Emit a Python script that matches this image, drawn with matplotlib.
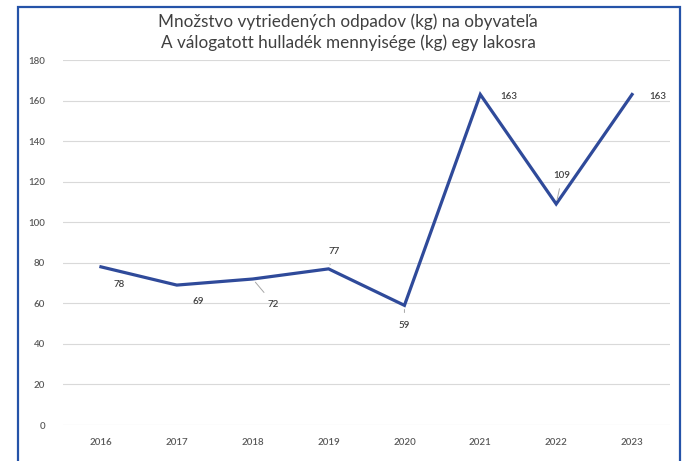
import matplotlib
matplotlib.use("Agg")
import matplotlib.pyplot as plt
from matplotlib.patches import Rectangle

years = ["2016", "2017", "2018", "2019", "2020", "2021", "2022", "2023"]
values = [78, 69, 72, 77, 59, 163, 109, 163]
yticks = [0, 20, 40, 60, 80, 100, 120, 140, 160, 180]
title = "Množstvo vytriedených odpadov (kg) na obyvateľa\nA válogatott hulladék mennyisége (kg) egy lakosra"

# label offsets in pixels (dx, dy) and whether a leader line is drawn
label_offsets = [(18, -18), (21, -16), (21, -25), (6, 17), (0, -20), (28, -2), (6, 28), (26, -2)]
leaders = [False, False, True, True, True, False, True, False]

plt.rcParams['font.family'] = ['Lato', 'DejaVu Sans']

fig = plt.figure(figsize=(6.91, 4.61), dpi=100)
ax = fig.add_axes([63/691, 1-425/461, (670-63)/691, (425-60)/461])

x = list(range(len(years)))
ax.plot(x, values, color="#2f4a9a", lw=2.3, solid_joinstyle="miter", zorder=3)

for xi, v, (dx, dy), ld in zip(x, values, label_offsets, leaders):
    kw = {}
    if ld:
        kw["arrowprops"] = dict(arrowstyle="-", color="#a6a6a6", lw=0.7, shrinkA=4, shrinkB=3)
    ax.annotate(str(v), (xi, v), xytext=(dx, dy), textcoords="offset pixels",
                ha="center", va="center", fontsize=7, color="#404040",
                fontweight="semibold", **kw)

ax.set_xlim(-0.5, len(years) - 0.5)
ax.set_ylim(0, 180)
ax.set_yticks(yticks)
ax.set_xticks(x)
ax.set_xticklabels(years, fontweight="semibold")
ax.set_yticklabels([str(t) for t in yticks], fontweight="semibold")
ax.tick_params(axis="both", length=0, labelsize=7, colors="#595959")
ax.tick_params(axis="x", pad=9)
ax.tick_params(axis="y", pad=13)
ax.grid(axis="y", color="#d9d9d9", lw=0.8)
ax.set_axisbelow(True)
for s in ax.spines.values():
    s.set_visible(False)

fig.text(348/691, 1-32/461, title, ha="center", va="center", fontsize=12.3,
         color="#404040", linespacing=1.3)

fig.patches.append(Rectangle((18/691, -0.05), (680-18)/691, 1.05 - 7/461,
                             transform=fig.transFigure, fill=False,
                             edgecolor="#2553a8", lw=1.6))

fig.savefig("out.png", dpi=100)
